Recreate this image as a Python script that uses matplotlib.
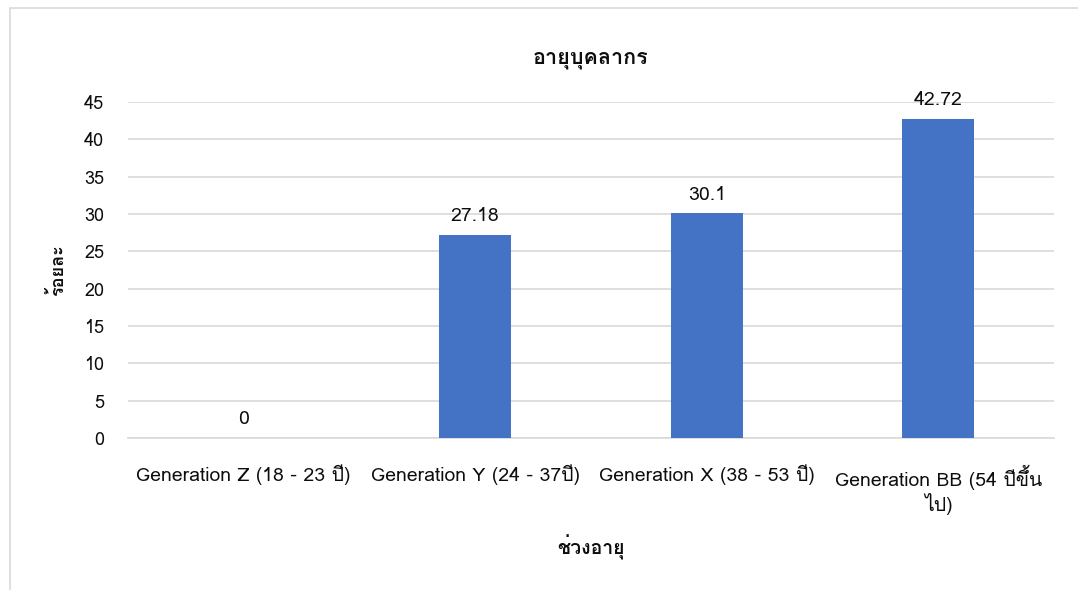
import matplotlib
matplotlib.use("Agg")
import matplotlib.pyplot as plt
from matplotlib import font_manager
from matplotlib.ft2font import FT2Font
from matplotlib.patches import Rectangle

# --- data ---
categories = ["Generation Z (18 - 23 ปี)", "Generation Y (24 - 37ปี)",
              "Generation X (38 - 53 ปี)", "Generation BB (54 ปีขึ้น\nไป)"]
values = [0, 27.18, 30.1, 42.72]
value_labels = ["0", "27.18", "30.1", "42.72"]
yticks = [0, 5, 10, 15, 20, 25, 30, 35, 40, 45]

title = "อายุบุคลากร"
xlabel = "ช่วงอายุ"
ylabel = "ร้อยละ"


# pick a family that has Thai glyphs, keep DejaVu as fallback
def thai_family():
    for f in font_manager.fontManager.ttflist:
        try:
            ft = FT2Font(f.fname)
            if ft.get_char_index(ord("ก")) and ft.get_char_index(ord("ี")):
                return f.name
        except Exception:
            pass
    return None


fam = thai_family()
families = ["Noto Sans", "DejaVu Sans"]
if fam:
    families = [fam] + families
plt.rcParams["font.family"] = families

text_col = "#0d0d0d"
grid_col = "#D9D9D9"

fig = plt.figure(figsize=(10.78, 5.90), dpi=100)
fig.patches.append(Rectangle((10 / 1078, -0.05), 1.2, 1 - 8 / 590 + 0.05,
                             transform=fig.transFigure, fill=False,
                             edgecolor=grid_col, linewidth=1.2))

ax = fig.add_axes([0.1187, 0.2576, 0.859, 0.5695])
x = range(len(categories))
bars = ax.bar(x, values, width=0.31, color="#4472C4", zorder=3)

ax.set_xlim(-0.5, len(categories) - 0.5)
ax.set_ylim(0, 45)
ax.set_yticks(yticks)
ax.set_xticks(list(x))
ax.set_xticklabels(categories, fontsize=14, color=text_col)
ax.tick_params(axis="y", labelsize=13, colors=text_col, length=0, pad=17)
ax.tick_params(axis="x", length=0, pad=19)
ax.grid(axis="y", color=grid_col, linewidth=1.2, zorder=0)
ax.axhline(0, color=grid_col, linewidth=1.2, zorder=1, clip_on=False)
for s in ax.spines.values():
    s.set_visible(False)

for rect, lab in zip(bars, value_labels):
    ax.annotate(lab, xy=(rect.get_x() + rect.get_width() / 2, rect.get_height()),
                xytext=(0, 7), textcoords="offset points",
                ha="center", va="bottom", fontsize=14, color=text_col)

ax.set_title(title, fontsize=15.5, fontweight="bold", color=text_col, pad=28)
ax.set_xlabel(xlabel, fontsize=14, fontweight="bold", color=text_col, labelpad=14)
ax.set_ylabel(ylabel, fontsize=13, fontweight="bold", color=text_col)
ax.yaxis.set_label_coords(-0.066, 0.5)

fig.savefig("out.png", dpi=100)
